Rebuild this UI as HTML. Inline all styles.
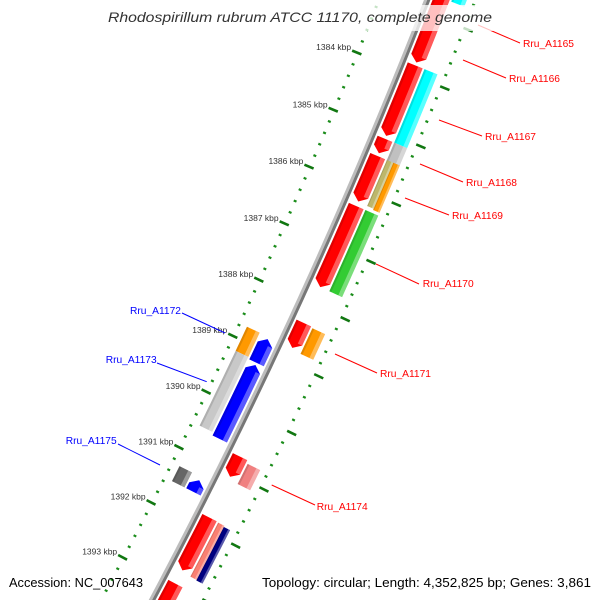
<!DOCTYPE html>
<html><head><meta charset="utf-8"><style>
html,body{margin:0;padding:0;background:#fff;width:600px;height:600px;overflow:hidden;}
svg{display:block;overflow:hidden;}
</style></head><body>
<svg id="map" width="600" height="600" viewBox="0 0 600 600" xmlns="http://www.w3.org/2000/svg" font-family="Liberation Sans, sans-serif">
<g id="rulers"></g>
<g id="backbone"></g>
<g id="features"></g>
<g id="leaders"></g>
<rect x="105" y="5" width="390" height="26" fill="#fff" opacity="0.75"/>
<text x="300" y="22" text-anchor="middle" font-size="14" font-style="italic" fill="#333" textLength="384" lengthAdjust="spacingAndGlyphs">Rhodospirillum rubrum ATCC 11170, complete genome</text>
<text x="9" y="587" font-size="13" fill="#000" textLength="134" lengthAdjust="spacingAndGlyphs">Accession: NC_007643</text>
<text x="262" y="587" font-size="13" fill="#000" textLength="329" lengthAdjust="spacingAndGlyphs">Topology: circular; Length: 4,352,825 bp; Genes: 3,861</text>
</svg>
<script>
// ---- data ----
const featStarts = [1382.0,1381.5,1383.84,1383.84,1385.11,1385.11,1385.41,1385.41,1385.41,1386.28,1386.28,1388.33,1388.35,1388.77,1389.20,1388.81,1389.27,1390.70,1390.75,1391.27,1391.33,1391.79,1391.80,1391.82,1392.98];
const featEnds   = [1383.79,1382.68,1385.06,1385.11,1385.36,1385.42,1386.20,1386.21,1386.23,1387.70,1387.70,1388.77,1388.80,1389.20,1390.54,1389.23,1390.59,1391.06,1391.11,1391.54,1391.54,1392.74,1392.77,1392.78,1394.2];
const featStrand = [1,0,1,0,1,0,1,0,0,1,0,1,0,0,0,-1,-1,1,0,0,-1,1,0,0,1];
const featLane   = ['R1','R2','R1','R2','R1','R2','R1','R2a','R2b','R1','R2','R1','R2','L2','L2','L1','L1','R1','R2','L2','L1','R1','R2a','R2b','R1'];
const featColor  = ['#ff0000','#00ffff','#ff0000','#00ffff','#ff0000','#c0c0c0','#ff0000','#bdb76b','#ff9900','#ff0000','#33cc33','#ff0000','#ff9900','#ff9900','#c8c8c8','#0000ff','#0000ff','#ff0000','#f08080','#666666','#0000ff','#ff0000','#fa8072','#000080','#ff0000'];
const tickKbp = [1384,1385,1386,1387,1388,1389,1390,1391,1392,1393];
const tickLabels = ['1384 kbp','1385 kbp','1386 kbp','1387 kbp','1388 kbp','1389 kbp','1390 kbp','1391 kbp','1392 kbp','1393 kbp'];
const geneNames = ['Rru_A1165','Rru_A1166','Rru_A1167','Rru_A1168','Rru_A1169','Rru_A1170','Rru_A1171','Rru_A1174','Rru_A1172','Rru_A1173','Rru_A1175'];
const geneColors = ['#ff0000','#ff0000','#ff0000','#ff0000','#ff0000','#ff0000','#ff0000','#ff0000','#0000ff','#0000ff','#0000ff'];

// ---- geometry ----
const NS='http://www.w3.org/2000/svg';
const CX=-4915, CY=-2086, RB=5735, TH0=22.08, DTH=0.623;
function P(k,off){const a=(TH0+(k-1384)*DTH)*Math.PI/180;const r=RB+off;return [CX+r*Math.cos(a),CY+r*Math.sin(a)];}
const LANES={R1:[5,21],R2:[23,37],R2a:[23,30],R2b:[30,37],L1:[-21,-5],L2:[-37,-23]};
function mk(tag,attrs,parent){const e=document.createElementNS(NS,tag);for(const k in attrs)e.setAttribute(k,attrs[k]);parent.appendChild(e);return e;}
function band(k0,k1,o0,o1){const pts=[];const n=Math.max(2,Math.ceil((k1-k0)/0.1));for(let i=0;i<=n;i++)pts.push(P(k0+(k1-k0)*i/n,o1));for(let i=n;i>=0;i--)pts.push(P(k0+(k1-k0)*i/n,o0));return pts;}
function ptsStr(p){return p.map(q=>q[0].toFixed(2)+','+q[1].toFixed(2)).join(' ');}

// rulers
const rul=document.getElementById('rulers');
for(let i=0;i<=62;i++){
  const k=1382+i*0.2;
  const major=Math.abs(k-Math.round(k))<0.01;
  [[-1],[1]].forEach(([side])=>{
    const a=major?(side<0?[-51,-41]:[44,54]):(side<0?[-46.5,-43.5]:[43.5,46.5]);
    const p0=P(k,a[0]),p1=P(k,a[1]);
    const l=mk('line',{x1:p0[0],y1:p0[1],x2:p1[0],y2:p1[1],stroke:major?'#117711':'#1a8c1a','stroke-width':major?2.6:2.2},rul);
    
    
  });
}
tickKbp.forEach((k,i)=>{
  const p=P(k,-51);
  const t=mk('text',{x:p[0]-1,y:p[1]-0.5,'text-anchor':'end','font-size':'8.5',fill:'#333'},rul);
  t.textContent=tickLabels[i];
  
  
});

// backbone
const bb=document.getElementById('backbone');
[[-1.5,'#bdbdbd',3],[1.5,'#777777',3]].forEach(([o,c,w])=>{
  const pts=[];for(let k=1381;k<=1395;k+=0.1)pts.push(P(k,o));
  const pl=mk('polyline',{points:ptsStr(pts),fill:'none',stroke:c,'stroke-width':w},bb);
  
  
});

// features
const fg=document.getElementById('features');
const H=0.1;
featStarts.forEach((s,i)=>{
  const e=featEnds[i],st=featStrand[i],ln=LANES[featLane[i]],col=featColor[i];
  const o0=ln[0],o1=ln[1],om=(o0+o1)/2;
  let b0=s,b1=e;
  if(st===1)b1=e-H; if(st===-1)b0=s+H;
  const g=mk('g',{},fg);
  
  
  let pts=band(b0,b1,o0,o1);
  if(st===1){const n=Math.max(2,Math.ceil((b1-b0)/0.1));const outer=[],inner=[];for(let j=0;j<=n;j++)outer.push(P(b0+(b1-b0)*j/n,o1));for(let j=n;j>=0;j--)inner.push(P(b0+(b1-b0)*j/n,o0));pts=outer.concat([P(e,om)],inner);}
  if(st===-1){const n=Math.max(2,Math.ceil((b1-b0)/0.1));const outer=[],inner=[];for(let j=0;j<=n;j++)outer.push(P(b0+(b1-b0)*j/n,o1));for(let j=n;j>=0;j--)inner.push(P(b0+(b1-b0)*j/n,o0));pts=[P(s,om)].concat(outer,inner);}
  const body=mk('polygon',{points:ptsStr(pts),fill:col},g);
  
  
  const w=o1-o0;
  const hi=mk('polygon',{points:ptsStr(band(b0,b1,o1-w*0.3,o1)),fill:'#fff',opacity:0.35},g);
  
  
  const sh=mk('polygon',{points:ptsStr(band(b0,b1,o0,o0+w*0.15)),fill:'#000',opacity:0.12},g);
  
  
});

// gene labels + leader lines
const lg=document.getElementById('leaders');
const labX=[523,509,485,466,452,422.7,380,316.7,181,156.7,116.7];
const labY=[47,82,140,186,219,287,377,510,314,363,444];
const lineFrom=[[478,25],[463,60],[439,120],[420,164],[405,198],[376,264],[335,354],[271.7,485],[225,333],[206.7,381.7],[160,465]];
const lineTo=[[520,43],[506,78],[482,136],[463,182],[449,215],[419,284],[377,373],[315,505],[182,313],[157,363],[118,444]];
geneNames.forEach((nm,i)=>{
  const l=mk('line',{x1:lineFrom[i][0],y1:lineFrom[i][1],x2:lineTo[i][0],y2:lineTo[i][1],stroke:geneColors[i],'stroke-width':1},lg);
  
  
  const left=geneColors[i]==='#0000ff';
  const t=mk('text',{x:labX[i],y:labY[i],'text-anchor':left?'end':'start','font-size':'10.5',fill:geneColors[i],textLength:'51',lengthAdjust:'spacingAndGlyphs'},lg);
  t.textContent=nm;
  
  
});
</script>
</body></html>
